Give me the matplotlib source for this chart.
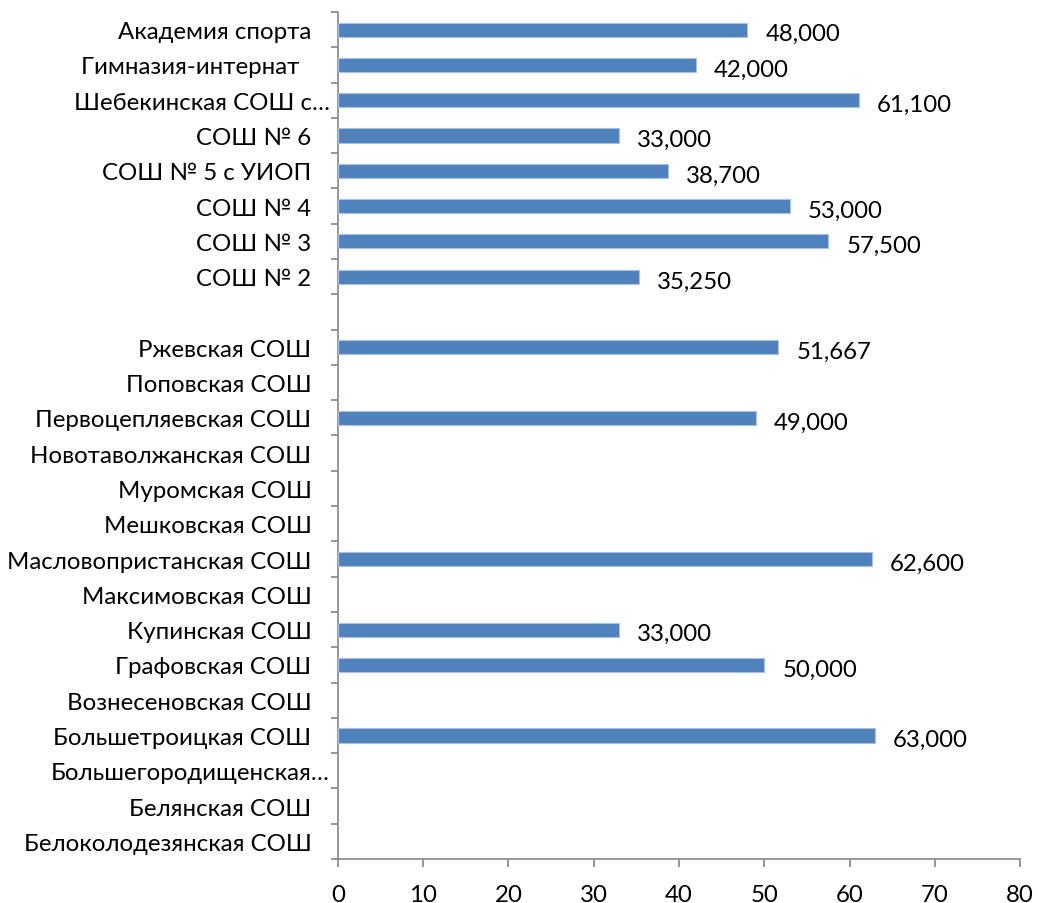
import numpy as np
import matplotlib
matplotlib.use('Agg')
import matplotlib.pyplot as plt
from matplotlib import transforms

plt.rcParams['font.family'] = ['Lato', 'DejaVu Sans']

# categories from bottom to top, '' is the blank gap row
schools = ['Белоколодезянская СОШ', 'Белянская СОШ', 'Большегородищенская…',
           'Большетроицкая СОШ', 'Вознесеновская СОШ', 'Графовская СОШ',
           'Купинская СОШ', 'Максимовская СОШ', 'Масловопристанская СОШ',
           'Мешковская СОШ', 'Муромская СОШ', 'Новотаволжанская СОШ',
           'Первоцепляевская СОШ', 'Поповская СОШ', 'Ржевская СОШ', '',
           'СОШ № 2', 'СОШ № 3', 'СОШ № 4', 'СОШ № 5 с УИОП', 'СОШ № 6',
           'Шебекинская СОШ с…', 'Гимназия-интернат  ', 'Академия спорта']
values = [np.nan, np.nan, np.nan, 63.0, np.nan, 50.0, 33.0, np.nan, 62.6,
          np.nan, np.nan, np.nan, 49.0, np.nan, 51.667, np.nan,
          35.25, 57.5, 53.0, 38.7, 33.0, 61.1, 42.0, 48.0]
xticks = list(range(0, 81, 10))

FS = 17.3

fig = plt.figure(figsize=(10.38, 9.04), dpi=100)
ax = fig.add_axes([0.3256, 0.0487, 0.6571, 0.9369])

pos = np.arange(len(schools))
vals = np.array(values)
has = ~np.isnan(vals)
ax.barh(pos[has], vals[has], height=0.4, color='#4F81BD',
        edgecolor='#A9C2E0', linewidth=0.8, zorder=3)

for y, v in zip(pos[has], vals[has]):
    ax.annotate(f'{v:.3f}'.replace('.', ','), xy=(v, y), xytext=(13, -3),
                textcoords='offset points', va='center', ha='left',
                fontsize=FS, color='black')

ax.set_xlim(0, 80)
ax.set_ylim(-0.5, len(schools) - 0.5)
ax.set_xticks(xticks)
ax.set_xticklabels([str(t) for t in xticks], fontsize=FS)

# tick marks on category borders, labels on centres
ax.set_yticks(np.arange(-0.5, len(schools), 1))
ax.set_yticklabels([])
ax.set_yticks(pos, minor=True)
ax.set_yticklabels(schools, minor=True, fontsize=FS)
ax.tick_params(axis='y', which='minor', length=0, pad=19)
ax.tick_params(axis='y', which='major', length=5, width=1.2, color='#868686')
ax.tick_params(axis='x', length=6, width=1.2, color='#868686', pad=12)

# truncated labels sit closer to the axis
for lab in ax.get_yticklabels(minor=True):
    if lab.get_text().endswith('…'):
        lab.set_transform(lab.get_transform() +
                          transforms.ScaledTranslation(13 / 72, 0, fig.dpi_scale_trans))

for s in ['top', 'right']:
    ax.spines[s].set_visible(False)
for s in ['left', 'bottom']:
    ax.spines[s].set_color('#868686')
    ax.spines[s].set_linewidth(1.2)

fig.savefig('out.png', dpi=100)
